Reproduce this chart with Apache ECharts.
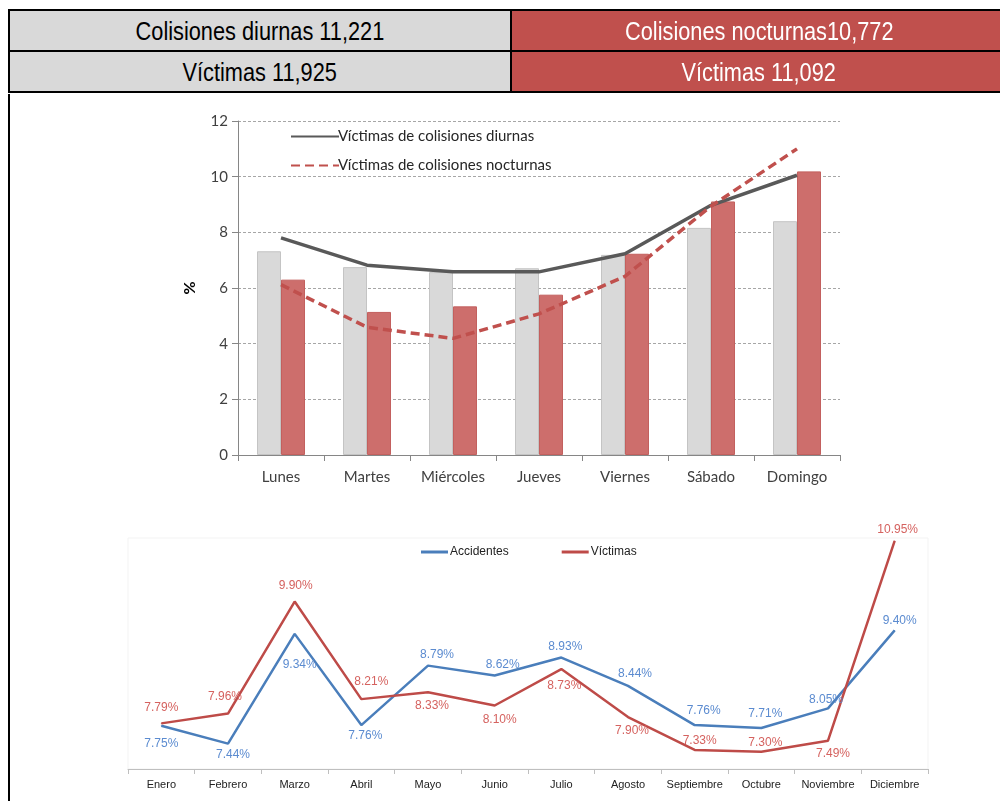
<!DOCTYPE html>
<html>
<head>
<meta charset="utf-8">
<script src="https://cdn.jsdelivr.net/npm/echarts@6/dist/echarts.min.js"></script>
<style>
  html, body { margin: 0; padding: 0; background: #fff; }
  #chart { position: absolute; left: 0; top: 0; width: 1000px; height: 801px; }
  #header {
    position: absolute; left: 8px; top: 9px; width: 1000px;
    border-collapse: collapse; z-index: 2;
    font-family: "Liberation Sans", Arial, sans-serif;
    font-size: 25px;
  }
  #header td { border: 2px solid #000; height: 38px; text-align: center; padding: 1px 0 0 0; }
  #header td span { display: inline-block; transform: scaleX(0.87); white-space: nowrap; }
  #header td.dia { background: #d9d9d9; color: #000; width: 500px; }
  #header td.noche { background: #c0504d; color: #fff; }
  #frame { position: absolute; left: 8px; top: 94px; height: 720px; border-left: 2px solid #000; z-index: 2; }
</style>
</head>
<body>
<table id="header">
  <tr><td class="dia"><span id="h1"></span></td><td class="noche"><span id="h2"></span></td></tr>
  <tr><td class="dia"><span id="h3"></span></td><td class="noche"><span id="h4"></span></td></tr>
</table>
<div id="frame"></div>
<div id="chart"></div>
<script>
// cabecera
const totalColisionesDiurnas = '11,221'
const totalColisionesNocturnas = '10,772'
const totalVictimasDiurnas = '11,925'
const totalVictimasNocturnas = '11,092'

// grafico por dia de la semana (%)
const dias = ['Lunes', 'Martes', 'Miércoles', 'Jueves', 'Viernes', 'Sábado', 'Domingo']
const colisionesDiurnas = [7.32, 6.75, 6.57, 6.71, 7.19, 8.16, 8.40]
const colisionesNocturnas = [6.30, 5.14, 5.34, 5.76, 7.23, 9.11, 10.19]
const victimasDiurnas = [7.80, 6.82, 6.58, 6.58, 7.23, 8.97, 10.05]
const victimasNocturnas = [6.12, 4.59, 4.19, 5.07, 6.42, 8.94, 11.0]

// grafico por mes (%)
const meses = ['Enero', 'Febrero', 'Marzo', 'Abril', 'Mayo', 'Junio', 'Julio', 'Agosto', 'Septiembre', 'Octubre', 'Noviembre', 'Diciembre']
const accidentes = [7.75, 7.44, 9.34, 7.76, 8.79, 8.62, 8.93, 8.44, 7.76, 7.71, 8.05, 9.40]
const victimas = [7.79, 7.96, 9.90, 8.21, 8.33, 8.10, 8.73, 7.90, 7.33, 7.30, 7.49, 10.95]

document.getElementById('h1').textContent = 'Colisiones diurnas ' + totalColisionesDiurnas
document.getElementById('h2').textContent = 'Colisiones nocturnas' + totalColisionesNocturnas
document.getElementById('h3').textContent = 'Víctimas ' + totalVictimasDiurnas
document.getElementById('h4').textContent = 'Víctimas ' + totalVictimasNocturnas

// desplazamiento de etiquetas (como en el original)
const offAccidentes = [[0, 18], [5, 11], [5, 31], [4, 11], [9, -11], [8, -11], [4, -11], [7, -12], [9, -14], [4, -14], [-2, -9], [5, -10]]
const offVictimas = [[0, -16], [-3, -17], [1, -16], [10, -17], [4, 13], [5, 14], [3, 17], [4, 14], [5, -9], [4, -9], [5, 13], [3, -11]]

function withLabels(values, offsets, color) {
  return values.map((v, i) => ({
    value: v,
    label: {
      show: true,
      position: 'inside',
      offset: offsets[i],
      color: color,
      fontFamily: 'Liberation Sans, Arial, sans-serif',
      fontSize: 12,
      formatter: (p) => p.value.toFixed(2) + '%'
    }
  }))
}

const calibri = 'Lato, sans-serif'

const chart = echarts.init(document.getElementById('chart'), null, { renderer: 'canvas' })
const option = {
  animation: false,
  grid: [
    { left: 238, right: 160, top: 121, bottom: 346 },
    { left: 128, right: 72, top: 538, bottom: 32, show: true, borderColor: '#f3f3f3', borderWidth: 1 }
  ],
  legend: [
    {
      data: ['Víctimas de colisiones diurnas', 'Víctimas de colisiones nocturnas'],
      orient: 'vertical',
      left: 285,
      top: 124,
      itemWidth: 48,
      itemHeight: 14,
      itemGap: 14,
      itemStyle: { opacity: 0 },
      textStyle: { fontFamily: calibri, fontSize: 15, color: '#262626', padding: [0, 0, 0, -6] }
    },
    {
      data: ['Accidentes', 'Víctimas'],
      left: 416,
      top: 541,
      icon: 'rect',
      itemWidth: 27,
      itemHeight: 3,
      itemGap: 53,
      textStyle: { fontFamily: 'Liberation Sans, Arial, sans-serif', fontSize: 12, color: '#222', padding: [0, 0, 0, -3] }
    }
  ],
  xAxis: [
    {
      gridIndex: 0,
      type: 'category',
      data: dias,
      axisLine: { lineStyle: { color: '#868686' } },
      axisTick: { show: true, length: 6, lineStyle: { color: '#868686' } },
      axisLabel: { fontFamily: calibri, fontSize: 15, color: '#404040', margin: 15 }
    },
    {
      gridIndex: 1,
      type: 'category',
      data: meses,
      axisLine: { lineStyle: { color: '#bfbfbf' } },
      axisTick: { show: true, length: 5, lineStyle: { color: '#bfbfbf' } },
      axisLabel: { fontFamily: 'Liberation Sans, Arial, sans-serif', fontSize: 11, color: '#222', margin: 10, interval: 0 }
    }
  ],
  yAxis: [
    {
      gridIndex: 0,
      type: 'value',
      min: 0,
      max: 12,
      interval: 2,
      name: '%',
      nameLocation: 'middle',
      nameGap: 40,
      nameTextStyle: { fontFamily: calibri, fontSize: 16, fontWeight: 'bold', color: '#000' },
      axisLine: { show: true, lineStyle: { color: '#868686' } },
      axisTick: { show: true, length: 6, lineStyle: { color: '#868686' } },
      axisLabel: { fontFamily: calibri, fontSize: 15, color: '#404040', margin: 10 },
      splitLine: { lineStyle: { color: '#a6a6a6', type: [3, 2] } }
    },
    {
      gridIndex: 1,
      type: 'value',
      min: 7,
      max: 11,
      show: false
    }
  ],
  series: [
    {
      name: 'Colisiones diurnas',
      type: 'bar',
      xAxisIndex: 0,
      yAxisIndex: 0,
      data: colisionesDiurnas,
      barWidth: 24,
      barGap: '0%',
      itemStyle: { color: '#d9d9d9', borderColor: '#c4c4c4', borderWidth: 1 }
    },
    {
      name: 'Colisiones nocturnas',
      type: 'bar',
      xAxisIndex: 0,
      yAxisIndex: 0,
      data: colisionesNocturnas,
      barWidth: 24,
      barGap: '0%',
      itemStyle: { color: '#cd6e6c', borderColor: '#c3605e', borderWidth: 1 }
    },
    {
      name: 'Víctimas de colisiones diurnas',
      type: 'line',
      xAxisIndex: 0,
      yAxisIndex: 0,
      data: victimasDiurnas,
      symbol: 'none',
      lineStyle: { color: '#595959', width: 3.5 },
      itemStyle: { color: '#595959' }
    },
    {
      name: 'Víctimas de colisiones nocturnas',
      type: 'line',
      xAxisIndex: 0,
      yAxisIndex: 0,
      data: victimasNocturnas,
      symbol: 'none',
      lineStyle: { color: '#c0504d', width: 3.5, type: [9, 5] },
      itemStyle: { color: '#c0504d' }
    },
    {
      name: 'Accidentes',
      type: 'line',
      xAxisIndex: 1,
      yAxisIndex: 1,
      data: withLabels(accidentes, offAccidentes, '#5b8bd0'),
      symbol: 'circle',
      symbolSize: 1,
      lineStyle: { color: '#4a7ebb', width: 2.5 },
      itemStyle: { color: '#4a7ebb' }
    },
    {
      name: 'Víctimas',
      type: 'line',
      xAxisIndex: 1,
      yAxisIndex: 1,
      data: withLabels(victimas, offVictimas, '#d5625f'),
      symbol: 'circle',
      symbolSize: 1,
      lineStyle: { color: '#be4b48', width: 2.5 },
      itemStyle: { color: '#be4b48' }
    }
  ]
}
chart.setOption(option)
</script>
</body>
</html>
